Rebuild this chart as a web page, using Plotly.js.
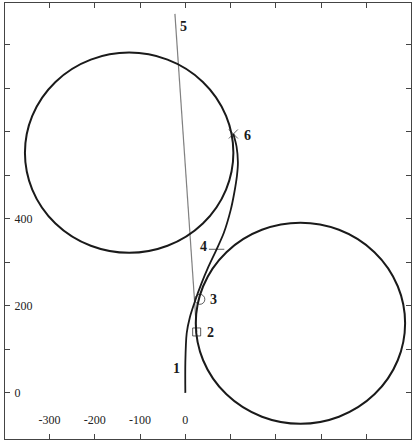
<!DOCTYPE html>
<html>
<head>
<meta charset="utf-8">
<script src="https://cdn.plot.ly/plotly-3.0.1.min.js"></script>
<style>
  html, body { margin: 0; padding: 0; background: #fff; }
  #chart { width: 415px; height: 441px; }
</style>
</head>
<body>
<div id="chart"></div>
<script>
// path from the origin up to point 6
const pathX = [0, 0, 3, 10, 22, 35, 51, 69, 85, 100, 108, 114, 116, 113, 106];
const pathY = [0, 70, 137, 174, 213, 250, 290, 330, 368, 420, 460, 500, 530, 566, 595];

// thin straight line (5)
const lineX = [-23, 25];
const lineY = [871, 140];

// the two circles
const circleCx = [-124, 254];
const circleCy = [552, 160];
const circleR = [230, 231];

// marked points 2, 3, 4, 6
const markX = [25, 32, 69, 106];
const markY = [140, 215, 330, 595];
const markSymbols = ["square-open", "circle-open", "line-ew-open", "x-thin-open"];

// number labels
const labelText = ["1", "2", "3", "4", "5", "6"];
const labelX = [-20, 55, 62, 40, -4, 138];
const labelY = [56, 139, 215, 337, 841, 592];

const xTicks = [-300, -200, -100, 0, 100, 200, 300, 400];
const xTickText = ["-300", "-200", "-100", "0", "", "", "", ""];
const yTicks = [0, 100, 200, 300, 400, 500, 600, 700, 800];
const yTickText = ["0", "", "200", "", "400", "", "", "", ""];

const ink = "#1a1a1a";

const traces = [
    {
        x: lineX, y: lineY,
        type: "scatter", mode: "lines",
        line: { color: "#808080", width: 1.2 },
        hoverinfo: "skip"
    },
    {
        x: pathX, y: pathY,
        type: "scatter", mode: "lines",
        line: { color: ink, width: 1.8, shape: "spline", smoothing: 0.8 },
        hoverinfo: "skip"
    },
    {
        x: markX, y: markY,
        type: "scatter", mode: "markers",
        marker: {
            symbol: markSymbols,
            size: [8, 10, 11, 9],
            color: ink,
            line: { color: ink, width: 1 }
        },
        hoverinfo: "skip"
    }
];

const shapes = circleCx.map((cx, i) => ({
    type: "circle",
    xref: "x", yref: "y",
    x0: cx - circleR[i], x1: cx + circleR[i],
    y0: circleCy[i] - circleR[i], y1: circleCy[i] + circleR[i],
    line: { color: ink, width: 2 }
}));

const annotations = labelText.map((t, i) => ({
    x: labelX[i], y: labelY[i],
    xref: "x", yref: "y",
    text: "<b>" + t + "</b>",
    showarrow: false,
    font: { family: "Liberation Serif, serif", size: 14, color: ink }
}));

const axisCommon = {
    showgrid: false,
    zeroline: false,
    showline: true,
    linecolor: "#444",
    linewidth: 1,
    mirror: "ticks",
    ticks: "inside",
    ticklen: 5,
    tickcolor: "#444",
    ticklabelposition: "inside",
    tickfont: { family: "Liberation Serif", size: 12, color: "#222" },
    tickmode: "array",
    fixedrange: true
};

const layout = {
    width: 415,
    height: 441,
    margin: { l: 5, r: 4, t: 3, b: 2 },
    paper_bgcolor: "#fff",
    plot_bgcolor: "#fff",
    showlegend: false,
    xaxis: {
        ...axisCommon,
        range: [-398, 498],
        tickvals: xTicks,
        ticktext: xTickText,
        ticklabelstandoff: 7
    },
    yaxis: {
        ...axisCommon,
        range: [-106, 896],
        tickvals: yTicks,
        ticktext: yTickText,
        ticklabelstandoff: 4
    },
    shapes: shapes,
    annotations: annotations
};

Plotly.newPlot("chart", traces, layout, { staticPlot: true });
</script>
</body>
</html>
